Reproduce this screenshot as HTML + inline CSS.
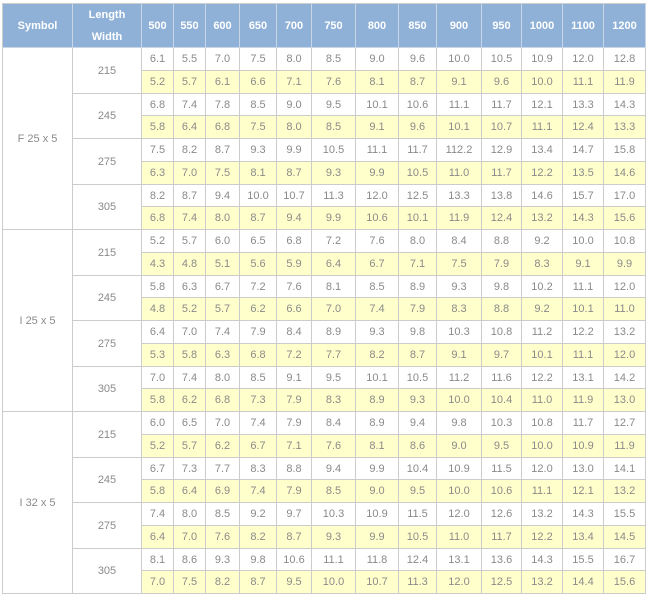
<!DOCTYPE html>
<html><head><meta charset="utf-8"><style>
body{margin:0;background:#fff;width:650px;height:600px;overflow:hidden;font-family:"Liberation Sans",Arial,sans-serif;}
#t{position:absolute;left:0;top:0;width:650px;height:600px;}
.c{position:absolute;box-sizing:border-box;border-right:1px solid #ccc;border-bottom:1px solid #ccc;display:flex;align-items:center;justify-content:center;font-size:11px;color:#8a8a8a;}
.h{background:#8fb1d7;color:#fff;font-weight:bold;border-color:#c9d6e6;}
.y{background:#ffffcc;}
.w{background:#fff;}
</style></head><body>
<div id="t"></div>
<script>
const cols=["500","550","600","650","700","750","800","850","900","950","1000","1100","1200"];
const symbols=["F 25 x 5","I 25 x 5","I 32 x 5"];
const widths=["215","245","275","305"];
const rows=[
["6.1","5.5","7.0","7.5","8.0","8.5","9.0","9.6","10.0","10.5","10.9","12.0","12.8"],
["5.2","5.7","6.1","6.6","7.1","7.6","8.1","8.7","9.1","9.6","10.0","11.1","11.9"],
["6.8","7.4","7.8","8.5","9.0","9.5","10.1","10.6","11.1","11.7","12.1","13.3","14.3"],
["5.8","6.4","6.8","7.5","8.0","8.5","9.1","9.6","10.1","10.7","11.1","12.4","13.3"],
["7.5","8.2","8.7","9.3","9.9","10.5","11.1","11.7","112.2","12.9","13.4","14.7","15.8"],
["6.3","7.0","7.5","8.1","8.7","9.3","9.9","10.5","11.0","11.7","12.2","13.5","14.6"],
["8.2","8.7","9.4","10.0","10.7","11.3","12.0","12.5","13.3","13.8","14.6","15.7","17.0"],
["6.8","7.4","8.0","8.7","9.4","9.9","10.6","10.1","11.9","12.4","13.2","14.3","15.6"],
["5.2","5.7","6.0","6.5","6.8","7.2","7.6","8.0","8.4","8.8","9.2","10.0","10.8"],
["4.3","4.8","5.1","5.6","5.9","6.4","6.7","7.1","7.5","7.9","8.3","9.1","9.9"],
["5.8","6.3","6.7","7.2","7.6","8.1","8.5","8.9","9.3","9.8","10.2","11.1","12.0"],
["4.8","5.2","5.7","6.2","6.6","7.0","7.4","7.9","8.3","8.8","9.2","10.1","11.0"],
["6.4","7.0","7.4","7.9","8.4","8.9","9.3","9.8","10.3","10.8","11.2","12.2","13.2"],
["5.3","5.8","6.3","6.8","7.2","7.7","8.2","8.7","9.1","9.7","10.1","11.1","12.0"],
["7.0","7.4","8.0","8.5","9.1","9.5","10.1","10.5","11.2","11.6","12.2","13.1","14.2"],
["5.8","6.2","6.8","7.3","7.9","8.3","8.9","9.3","10.0","10.4","11.0","11.9","13.0"],
["6.0","6.5","7.0","7.4","7.9","8.4","8.9","9.4","9.8","10.3","10.8","11.7","12.7"],
["5.2","5.7","6.2","6.7","7.1","7.6","8.1","8.6","9.0","9.5","10.0","10.9","11.9"],
["6.7","7.3","7.7","8.3","8.8","9.4","9.9","10.4","10.9","11.5","12.0","13.0","14.1"],
["5.8","6.4","6.9","7.4","7.9","8.5","9.0","9.5","10.0","10.6","11.1","12.1","13.2"],
["7.4","8.0","8.5","9.2","9.7","10.3","10.9","11.5","12.0","12.6","13.2","14.3","15.5"],
["6.4","7.0","7.6","8.2","8.7","9.3","9.9","10.5","11.0","11.7","12.2","13.4","14.5"],
["8.1","8.6","9.3","9.8","10.6","11.1","11.8","12.4","13.1","13.6","14.3","15.5","16.7"],
["7.0","7.5","8.2","8.7","9.5","10.0","10.7","11.3","12.0","12.5","13.2","14.4","15.6"]
];
const xs=[2,73,142,174,206,240,277,312,356,399,437,482,522,563,604,646];
const top0=3,hdrB=48,bot=594;
const rh=(bot-hdrB)/rows.length;
const T=document.getElementById('t');
function cell(x0,y0,x1,y1,txt,cls,name){
  const d=document.createElement('div');
  d.className='c '+cls;
  d.style.left=x0+'px';d.style.top=y0+'px';
  d.style.width=(x1-x0)+'px';d.style.height=(y1-y0)+'px';
  d.innerHTML=txt;
  
  
  T.appendChild(d);return d;
}
const s=cell(xs[0],top0,xs[1],hdrB,'Symbol','h','header-symbol');s.style.borderLeft='1px solid #ccc';s.style.borderTop='1px solid #ccc';
const lw=cell(xs[1],top0,xs[2],hdrB,'Length<br>Width','h','header-length-width');lw.style.lineHeight='22px';lw.style.textAlign='center';lw.style.borderTop='1px solid #ccc';
cols.forEach((c,i)=>{const h=cell(xs[i+2],top0,xs[i+3],hdrB,c,'h','header-col-'+c);h.style.borderTop='1px solid #ccc';});
symbols.forEach((sym,si)=>{
  const y0=hdrB+si*8*rh,y1=hdrB+(si+1)*8*rh;
  const d=cell(xs[0],Math.round(y0),Math.round(y1),0,sym,'w','symbol-cell');
  d.style.top=Math.round(y0)+'px';d.style.left=xs[0]+'px';d.style.width=(xs[1]-xs[0])+'px';d.style.height=(Math.round(y1)-Math.round(y0))+'px';
  d.style.borderLeft='1px solid #ccc';
  widths.forEach((w,wi)=>{
    const a=y0+wi*2*rh,b=a+2*rh;
    cell(xs[1],Math.round(a),xs[2],Math.round(b),w,'w','width-cell');
  });
});
rows.forEach((r,ri)=>{
  const a=Math.round(hdrB+ri*rh),b=Math.round(hdrB+(ri+1)*rh);
  r.forEach((v,ci)=>{
    cell(xs[ci+2],a,xs[ci+3],b,v,ri%2?'y':'w','value-cell');
  });
});
</script>
</body></html>
